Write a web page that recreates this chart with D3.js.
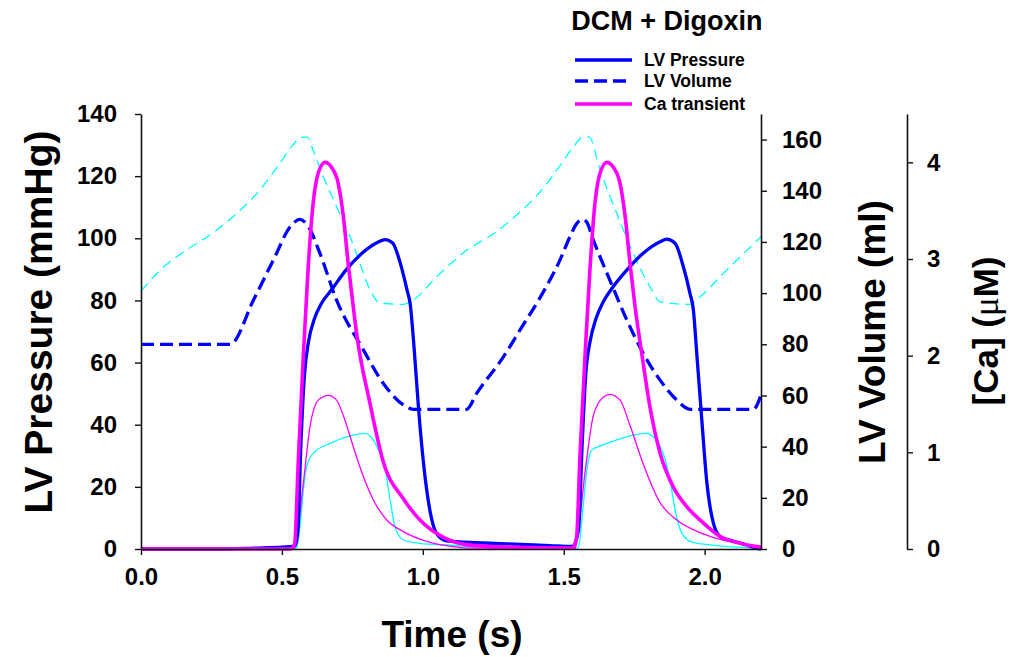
<!DOCTYPE html>
<html>
<head>
<meta charset="utf-8">
<script src="https://cdn.jsdelivr.net/npm/d3@7"></script>
<style>
  html, body { margin: 0; padding: 0; background: #fff; }
  svg { display: block; }
  text { font-family: "Liberation Sans", Arial, sans-serif; font-weight: bold; fill: #000; }
</style>
</head>
<body>
<svg id="chart" width="1016" height="657"></svg>
<script>
// ---------------- data ----------------
const chartTitle = "DCM + Digoxin";
const xTicks = [0, 0.5, 1.0, 1.5, 2.0];
const pressureTicks = [0, 20, 40, 60, 80, 100, 120, 140];
const volumeTicks = [0, 20, 40, 60, 80, 100, 120, 140, 160];
const caTicks = [0, 1, 2, 3, 4];
const legendLabels = ["LV Pressure", "LV Volume", "Ca transient"];

// DCM + Digoxin: LV pressure (mmHg) [time s, value]
const pressureDigoxin = [
  [0,0],[0.30,0],[0.40,0.3],[0.50,0.6],[0.545,0.9],[0.556,5],[0.568,35],[0.580,56],[0.595,67],
  [0.615,74],[0.640,79],[0.677,83.5],[0.725,89.5],[0.782,95],[0.842,98.8],[0.866,99.6],[0.893,98.5],
  [0.920,92],[0.945,83],[0.955,79],[0.968,66],[0.985,45],[1.002,28],[1.026,12],[1.049,5],[1.085,2.6],
  [1.15,2.2],[1.25,1.8],[1.35,1.5],[1.45,1.1],[1.53,0.8],
  [1.552,6],[1.566,35],[1.578,56],[1.594,67],[1.614,74],[1.640,79.5],[1.676,84.5],[1.724,89.8],
  [1.782,95.2],[1.842,98.9],[1.866,99.7],[1.895,98.4],[1.924,91],[1.948,82.3],[1.960,77],[1.972,63],
  [1.990,41.5],[2.007,22.2],[2.031,8.3],[2.055,4],[2.102,2.5],[2.149,1.3],[2.185,0.2],[2.2,0]
];
// DCM + Digoxin: LV volume (ml)
const volumeDigoxin = [
  [0,80],[0.316,80],[0.40,97.5],[0.47,113],[0.53,126],[0.564,128.8],[0.594,126],[0.635,115.5],
  [0.694,97.3],[0.789,77.8],[0.860,64.7],[0.931,56.3],[0.966,54.6],[1.156,54.6],[1.191,60.8],
  [1.286,75.1],[1.345,85.6],[1.42,99],[1.487,113],[1.522,122],[1.545,127],[1.564,128.8],[1.58,128],
  [1.605,120.7],[1.664,105],[1.724,89.5],[1.782,76.5],[1.842,66],[1.901,58.2],[1.948,54.6],
  [2.173,54.6],[2.2,60.2]
];
// DCM + Digoxin: Ca transient (uM)
const caDigoxin = [
  [0,0],[0.53,0],[0.545,0.05],[0.558,0.9],[0.576,2.0],[0.593,2.9],[0.611,3.58],[0.629,3.89],[0.653,4.0],
  [0.676,3.95],[0.700,3.78],[0.718,3.44],[0.735,2.96],[0.753,2.51],[0.765,2.23],[0.813,1.5],[0.860,0.9],
  [0.931,0.52],[0.990,0.3],[1.073,0.12],[1.167,0.04],[1.3,0.02],[1.53,0.01],
  [1.545,0.1],[1.558,0.99],[1.576,2.02],[1.593,2.89],[1.611,3.58],[1.629,3.89],[1.653,4.0],[1.676,3.95],
  [1.700,3.78],[1.718,3.44],[1.735,2.96],[1.753,2.51],[1.777,2.02],[1.806,1.47],[1.842,0.99],[1.889,0.64],
  [1.936,0.44],[1.995,0.27],[2.055,0.13],[2.126,0.06],[2.173,0.03],[2.2,0.02]
];
// DCM control: LV pressure (mmHg)
const pressureControl = [
  [0,0],[0.545,0],[0.5525,0.5],[0.565,8],[0.575,18],[0.588,26.5],[0.611,30.8],[0.671,34],[0.742,36.4],
  [0.795,37.2],[0.824,35.1],[0.845,31.5],[0.860,28.6],[0.884,15.8],[0.901,7.2],[0.931,2.9],[0.99,1.8],
  [1.10,1.2],[1.2,0.6],[1.3,0.3],[1.545,0.2],
  [1.552,0.5],[1.570,14.7],[1.582,25.4],[1.600,31.9],[1.640,33.5],[1.688,35.1],[1.735,36.4],[1.794,37.2],
  [1.823,35.6],[1.853,30.8],[1.877,22.2],[1.895,12.6],[1.919,5.1],[1.954,2.3],[2.019,1.3],[2.137,0.5],[2.2,0.1]
];
// DCM control: LV volume (ml)
const volumeControl = [
  [0,100.8],[0.078,110],[0.163,117],[0.255,123.5],[0.341,131.3],[0.422,140.3],[0.493,150.8],[0.539,157.9],
  [0.565,160.8],[0.59,161],[0.610,156],[0.647,145.5],[0.694,133.8],[0.742,122],[0.777,111.6],[0.813,101.2],
  [0.848,96.2],[0.931,95.6],[0.966,97.3],[1.049,106.4],[1.156,116.8],[1.255,123.5],[1.341,131.3],
  [1.422,140.3],[1.493,150.8],[1.539,157.9],[1.565,160.8],[1.59,161],[1.629,148.1],[1.688,131.2],
  [1.747,115.5],[1.806,102.5],[1.842,96.6],[1.948,95.6],[1.984,98.6],[2.078,109],[2.2,122]
];
// DCM control: Ca transient (uM)
const caControl = [
  [0,0],[0.54,0],[0.5465,0.02],[0.576,0.68],[0.600,1.27],[0.629,1.54],[0.665,1.59],[0.694,1.54],[0.724,1.33],
  [0.753,1.06],[0.789,0.75],[0.824,0.51],[0.872,0.30],[0.931,0.18],[1.002,0.09],[1.073,0.04],[1.167,0.01],
  [1.54,0],[1.545,0.05],[1.576,0.8],[1.605,1.38],[1.640,1.57],[1.664,1.6],[1.700,1.54],[1.735,1.28],
  [1.782,0.88],[1.842,0.48],[1.901,0.30],[1.96,0.2],[2.019,0.13],[2.137,0.05],[2.2,0.02]
];

// ---------------- layout ----------------
const svg = d3.select("#chart");
const plotLeft = 141, plotRight = 761, plotTop = 114, plotBottom = 549;
const volAxisX = 761, caAxisX = 907;

const x = d3.scaleLinear().domain([0, 2.2]).range([plotLeft, plotRight]);
const yP = d3.scaleLinear().domain([0, 140]).range([plotBottom, plotTop]);
const yV = d3.scaleLinear().domain([0, 170]).range([plotBottom, plotTop]);
const yC = d3.scaleLinear().domain([0, 4.5]).range([plotBottom, plotTop]);

const BLUE = "#0000ff", MAG = "#ff00ff", CYAN = "#00ffff";

function lineFor(ys) {
  return d3.line().x(d => x(d[0])).y(d => ys(d[1])).curve(d3.curveMonotoneX);
}

// ---------------- series ----------------
const g = svg.append("g");
g.append("path").datum(volumeControl).attr("d", lineFor(yV))
  .attr("fill", "none").attr("stroke", CYAN).attr("stroke-width", 1.3).attr("stroke-dasharray", "10,6");
g.append("path").datum(pressureControl).attr("d", lineFor(yP))
  .attr("fill", "none").attr("stroke", CYAN).attr("stroke-width", 1.3);
g.append("path").datum(caControl).attr("d", lineFor(yC))
  .attr("fill", "none").attr("stroke", MAG).attr("stroke-width", 1.3);
g.append("path").datum(volumeDigoxin).attr("d", lineFor(yV))
  .attr("fill", "none").attr("stroke", BLUE).attr("stroke-width", 3.3).attr("stroke-dasharray", "13,6");
g.append("path").datum(pressureDigoxin).attr("d", lineFor(yP))
  .attr("fill", "none").attr("stroke", BLUE).attr("stroke-width", 3.3).attr("stroke-linejoin", "round");
g.append("path").datum(caDigoxin).attr("d", lineFor(yC))
  .attr("fill", "none").attr("stroke", MAG).attr("stroke-width", 3.6).attr("stroke-linejoin", "round");

// ---------------- axes ----------------
function styleAxis(sel, fs) {
  sel.selectAll("path.domain").attr("stroke", "#111").attr("stroke-width", 1.6);
  sel.selectAll(".tick line").attr("stroke", "#111").attr("stroke-width", 1.4);
  sel.selectAll(".tick text").style("font-family", '"Liberation Sans", Arial, sans-serif')
    .style("font-weight", "bold").style("font-size", fs + "px").attr("fill", "#000");
}

const xAxis = svg.append("g").attr("transform", `translate(0,${plotBottom})`)
  .call(d3.axisBottom(x).tickValues(xTicks).tickFormat(d3.format(".1f")).tickSize(6).tickSizeOuter(0).tickPadding(13));
styleAxis(xAxis, 24);

const pAxis = svg.append("g").attr("transform", `translate(${plotLeft},0)`)
  .call(d3.axisLeft(yP).tickValues(pressureTicks).tickFormat(d3.format("d")).tickSize(6).tickSizeOuter(0).tickPadding(18));
styleAxis(pAxis, 24);

const vAxis = svg.append("g").attr("transform", `translate(${volAxisX},0)`)
  .call(d3.axisRight(yV).tickValues(volumeTicks).tickFormat(d3.format("d")).tickSize(6).tickSizeOuter(0).tickPadding(15));
styleAxis(vAxis, 24);

const cAxis = svg.append("g").attr("transform", `translate(${caAxisX},0)`)
  .call(d3.axisRight(yC).tickValues(caTicks).tickFormat(d3.format("d")).tickSize(6).tickSizeOuter(0).tickPadding(14));
styleAxis(cAxis, 24);

// ---------------- titles ----------------
svg.append("text").attr("x", 452).attr("y", 647).attr("text-anchor", "middle")
  .style("font-size", "37px").text("Time (s)");
svg.append("text").attr("transform", "translate(52,322) rotate(-90)").attr("text-anchor", "middle")
  .style("font-size", "39px").text("LV Pressure (mmHg)");
svg.append("text").attr("transform", "translate(885,332) rotate(-90)").attr("text-anchor", "middle")
  .style("font-size", "37px").text("LV Volume (ml)");
const caT = svg.append("text").attr("transform", "translate(998,331) rotate(-90)").attr("text-anchor", "middle")
  .style("font-size", "35px");
caT.append("tspan").text("[Ca] (");
caT.append("tspan").style("font-weight", "normal").style("font-family", '"Liberation Serif", serif').text("μ");
caT.append("tspan").text("M)");

svg.append("text").attr("x", 667).attr("y", 30).attr("text-anchor", "middle")
  .style("font-size", "27px").text(chartTitle);

// ---------------- legend ----------------
const legendStyles = [
  {stroke: BLUE, dash: null, w: 3.3},
  {stroke: BLUE, dash: "13,6", w: 3.3},
  {stroke: MAG, dash: null, w: 3.6}
];
const legendY = [60, 81, 104];
legendLabels.forEach((lab, i) => {
  svg.append("line").attr("x1", 575).attr("x2", 632).attr("y1", legendY[i]).attr("y2", legendY[i])
    .attr("stroke", legendStyles[i].stroke).attr("stroke-width", legendStyles[i].w)
    .attr("stroke-dasharray", legendStyles[i].dash);
  svg.append("text").attr("x", 644).attr("y", legendY[i] + 6).style("font-size", "17.5px").text(lab);
});
</script>
</body>
</html>
